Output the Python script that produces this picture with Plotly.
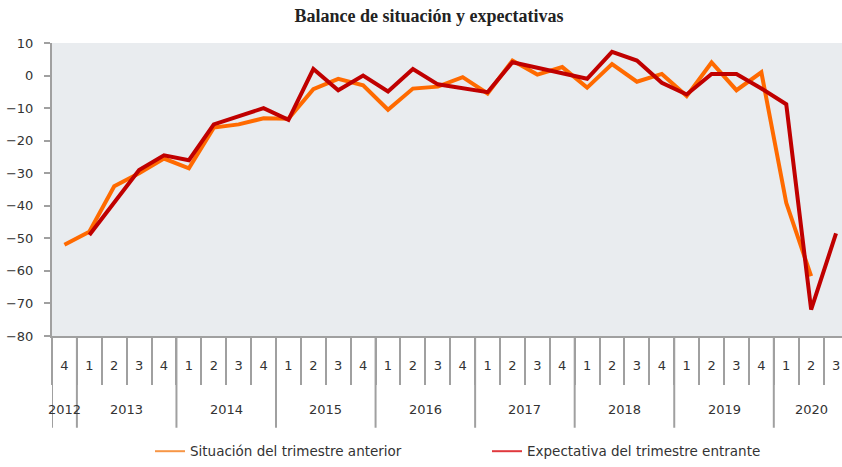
import plotly.graph_objects as go

years = ["2012"] + [y for y in ["2013", "2014", "2015", "2016", "2017", "2018", "2019"] for _ in range(4)] + ["2020"] * 3
quarters = ["4"] + ["1", "2", "3", "4"] * 7 + ["1", "2", "3"]

situacion = [-52, -48, -34, -30, -25.5, -28.5, -16, -15, -13.1, -13.3,
             -4.2, -1.0, -3.0, -10.5, -4.0, -3.4, -0.5, -5.5, 4.6, 0.3,
             2.6, -3.7, 3.5, -1.9, 0.5, -6.3, 4.0, -4.5, 1.0, -39.1,
             -61.6, None]
expectativa = [None, -49, -39, -29, -24.5, -26, -15, -12.5, -10, -13.6,
               2.0, -4.5, 0, -4.9, 2.0, -2.7, -3.8, -5.1, 4.1, 2.3,
               0.6, -1.0, 7.3, 4.6, -2.2, -5.8, 0.5, 0.5, -4.0, -8.8,
               -71.9, -48.5]

y_ticks = list(range(-80, 11, 10))

FONT = "DejaVu Sans, Verdana, sans-serif"
AXIS_GREY = "#a0a0a0"
TXT = "#333333"

idx = list(range(len(quarters)))
boundaries = [i - 0.5 for i in idx]

# year groups (positions derived from the category lists)
year_order = []
for y in years:
    if y not in year_order:
        year_order.append(y)
year_centers = {y: sum(i for i in idx if years[i] == y) / years.count(y) for y in year_order}
year_bounds = [-0.5] + [i - 0.5 for i in idx[1:] if years[i] != years[i - 1]]

fig = go.Figure()
fig.add_trace(go.Scatter(
    x=idx, y=situacion, mode="lines", showlegend=False,
    line=dict(color="#ff6a00", width=4),
))
fig.add_trace(go.Scatter(
    x=idx, y=expectativa, mode="lines", showlegend=False,
    line=dict(color="#c00000", width=4),
))
# legend entries
fig.add_trace(go.Scatter(
    x=[None], y=[None], mode="lines", name="Situación del trimestre anterior",
    line=dict(color="#f79646", width=2), legend="legend",
))
fig.add_trace(go.Scatter(
    x=[None], y=[None], mode="lines", name="Expectativa del trimestre entrante",
    line=dict(color="#e0393e", width=2), legend="legend2",
))

H_PLOT = 297.0
W_PLOT = 790.0
shapes = [
    dict(type="line", xref="x", yref="paper", x0=b, x1=b, y0=0, y1=-93 / H_PLOT,
         line=dict(color=AXIS_GREY, width=2))
    for b in year_bounds
]
annotations = [
    dict(text=y, x=year_centers[y], xref="x", y=-75 / H_PLOT, yref="paper",
         showarrow=False, xanchor="center", yanchor="middle",
         font=dict(family=FONT, size=13, color=TXT))
    for y in year_order
]

fig.update_layout(
    width=842, height=467,
    margin=dict(l=52, r=0, t=43, b=127),
    paper_bgcolor="white",
    plot_bgcolor="#e9ecef",
    font=dict(family=FONT, size=13, color=TXT),
    title=dict(
        text="<b>Balance de situación y expectativas</b>",
        font=dict(family="Liberation Serif, Times New Roman, serif", size=18, color="#222222"),
        x=(293 + 565) / 2 / 842, xref="container", xanchor="center",
        y=1 - 16 / 467, yref="container", yanchor="middle",
    ),
    xaxis=dict(
        range=[-0.5, 31.24],
        tickmode="array", tickvals=idx, ticktext=quarters,
        ticks="", ticklabelstandoff=16, automargin=False,
        minor=dict(tickmode="array", tickvals=boundaries, ticks="outside",
                   ticklen=47, tickcolor=AXIS_GREY, tickwidth=2, showgrid=False),
        showline=True, linecolor=AXIS_GREY, linewidth=2,
        showgrid=False, zeroline=False,
        tickfont=dict(family=FONT, size=13, color=TXT),
    ),
    yaxis=dict(
        range=[-80, 10], tickmode="array", tickvals=y_ticks,
        showline=True, linecolor=AXIS_GREY, linewidth=2,
        ticks="outside", ticklen=6, tickcolor=AXIS_GREY, tickwidth=2,
        ticklabelstandoff=8, automargin=False,
        showgrid=False, zeroline=False,
        tickfont=dict(family=FONT, size=13, color=TXT),
    ),
    shapes=shapes,
    annotations=annotations,
    showlegend=True,
    legend=dict(
        x=(150 - 52) / W_PLOT, xanchor="left", y=-(457 - 340) / H_PLOT, yanchor="middle",
        bgcolor="rgba(0,0,0,0)", font=dict(family=FONT, size=13.5, color=TXT),
    ),
    legend2=dict(
        x=(487 - 52) / W_PLOT, xanchor="left", y=-(457 - 340) / H_PLOT, yanchor="middle",
        bgcolor="rgba(0,0,0,0)", font=dict(family=FONT, size=13.5, color=TXT),
    ),
)

fig.write_html(
    "out.html",
    config={"displayModeBar": False},
    post_script="document.body.style.margin='0';document.body.style.overflow='hidden';",
)
